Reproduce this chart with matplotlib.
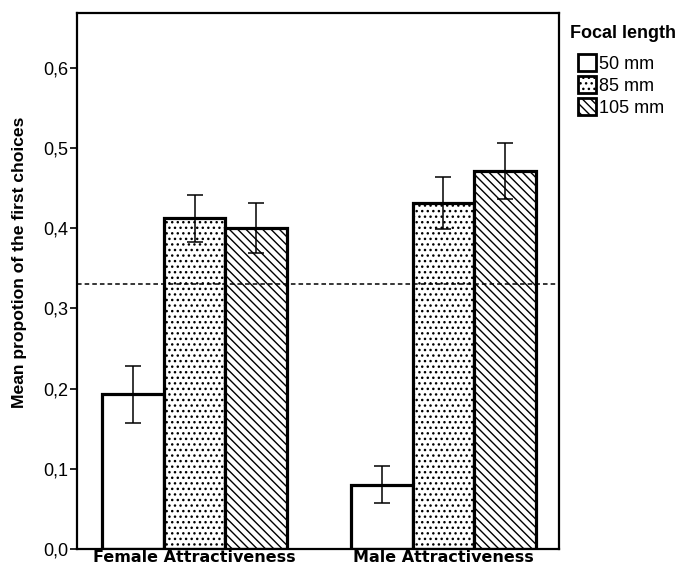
# bar chart of mean proportion of first choices by focal length
import matplotlib
matplotlib.use('Agg')
import matplotlib.pyplot as plt
from matplotlib.patches import Patch
import numpy as np

groups = ['Female Attractiveness', 'Male Attractiveness']
lenses = ['50 mm', '85 mm', '105 mm']

# means per lens, one value per group
mean_50 = [0.193, 0.080]
mean_85 = [0.412, 0.431]
mean_105 = [0.400, 0.471]
# error bar bounds
low_50 = [0.157, 0.057]
high_50 = [0.228, 0.103]
low_85 = [0.383, 0.399]
high_85 = [0.441, 0.463]
low_105 = [0.369, 0.436]
high_105 = [0.431, 0.506]

chance = 0.33
yticks = [0.0, 0.1, 0.2, 0.3, 0.4, 0.5, 0.6]
ytick_labels = ['0,0', '0,1', '0,2', '0,3', '0,4', '0,5', '0,6']

plt.rcParams['hatch.linewidth'] = 1.0
plt.rcParams['font.family'] = ['Liberation Sans', 'DejaVu Sans']

fig = plt.figure(figsize=(6.82, 5.72), dpi=100)
ax = fig.add_axes([0.1129, 0.0402, 0.8196 - 0.1129, 0.9773 - 0.0402])

x = np.arange(len(groups))
w = 0.247
hatches = ['', '...', '\\\\\\\\']
means = [mean_50, mean_85, mean_105]
lows = [low_50, low_85, low_105]
highs = [high_50, high_85, high_105]

for i in range(3):
    xp = x + (i - 1) * w
    m = np.array(means[i])
    yerr = [m - np.array(lows[i]), np.array(highs[i]) - m]
    ax.bar(xp, m, width=w, color='white', edgecolor='black',
           linewidth=2.3, hatch=hatches[i], zorder=2)
    ax.errorbar(xp, m, yerr=yerr, fmt='none', ecolor='black',
                elinewidth=1.1, capsize=5.8, capthick=1.1, zorder=4)

ax.axhline(chance, color='black', linestyle=(0, (3, 2)), linewidth=1.1, zorder=3)

ax.set_xlim(-0.472, 1.464)
ax.set_ylim(0, 0.668)
ax.set_yticks(yticks)
ax.set_yticklabels(ytick_labels, fontsize=13)
ax.set_xticks(x)
ax.set_xticklabels(groups, fontsize=11.5, fontweight='bold', family='DejaVu Sans')
ax.tick_params(axis='x', length=0, pad=1)
ax.tick_params(axis='y', length=5, width=1.2, pad=1)
for s in ax.spines.values():
    s.set_linewidth(1.6)

ax.set_ylabel('Mean propotion of the first choices', fontsize=12.6,
              fontweight='bold')
ax.yaxis.set_label_coords(-0.104, 0.535)

# legend outside right
fig.text(570 / 682, 1 - 33 / 572, 'Focal length', fontsize=13,
         fontweight='bold', va='center', ha='left')
handles = [Patch(facecolor='white', edgecolor='black', linewidth=2,
                 hatch=hatches[i], label=lenses[i]) for i in range(3)]
fig.legend(handles=handles, loc='upper left',
           bbox_to_anchor=(578 / 682, 1 - 54 / 572), frameon=False,
           fontsize=13, handlelength=1.0, handleheight=1.05,
           handletextpad=0.15, labelspacing=0.2, borderpad=0,
           borderaxespad=0)

plt.savefig('out.png', dpi=100)
